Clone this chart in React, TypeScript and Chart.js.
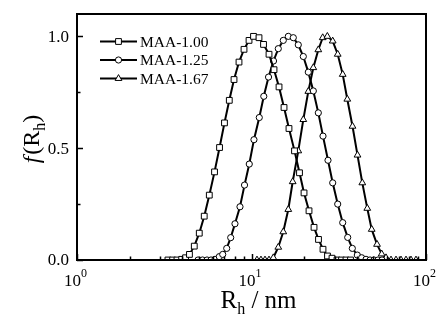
import { useEffect, useRef } from 'react';
import { Chart, registerables } from 'chart.js';

Chart.register(...registerables);

// ---- data ----
const seriesLabels = ['MAA-1.00', 'MAA-1.25', 'MAA-1.67'];

const rh100 = [3.32, 3.53, 3.74, 3.98, 4.19, 4.41, 4.70, 5.02, 5.36, 5.73,
  6.14, 6.56, 7.00, 7.46, 7.94, 8.48, 9.06, 9.68, 10.27, 11.04,
  11.72, 12.60, 13.46, 14.38, 15.36, 16.40, 17.64, 18.84, 20.00, 21.36,
  22.82, 24.21, 25.69, 27.26, 28.93, 30.90, 32.80, 34.79, 36.93];
const f100 = [0, 0, 0, 0.003, 0.01, 0.025, 0.062, 0.12, 0.196, 0.29,
  0.394, 0.503, 0.613, 0.714, 0.807, 0.885, 0.942, 0.982, 1.0, 0.994,
  0.964, 0.92, 0.851, 0.774, 0.682, 0.588, 0.488, 0.39, 0.30, 0.22,
  0.146, 0.092, 0.048, 0.018, 0.008, 0, 0, 0, 0];

const rh125 = [4.94, 5.24, 5.56, 5.86, 6.18, 6.54, 6.84, 7.21, 7.60, 8.04,
  8.59, 9.12, 9.71, 10.33, 11.08, 11.76, 12.52, 13.37, 14.24, 15.21,
  16.25, 17.36, 18.54, 19.81, 21.16, 22.61, 24.15, 25.69, 27.44, 29.20,
  31.19, 33.32, 35.59, 37.82, 40.40, 42.81, 45.32, 47.77, 50.35, 53.08, 55.96];
const f125 = [0, 0, 0, 0, 0.003, 0.015, 0.025, 0.052, 0.1, 0.162,
  0.238, 0.335, 0.429, 0.538, 0.637, 0.732, 0.818, 0.89, 0.945, 0.982,
  1.0, 0.994, 0.962, 0.91, 0.84, 0.756, 0.658, 0.554, 0.446, 0.345,
  0.25, 0.167, 0.101, 0.052, 0.022, 0.01, 0.003, 0, 0, 0, 0];

const rh167 = [10.75, 11.33, 11.95, 12.60, 13.34, 14.24, 15.21, 16.25, 17.22, 18.54,
  19.81, 21.16, 22.61, 24.15, 25.59, 27.20, 29.20, 31.19, 33.32, 35.40,
  37.92, 40.50, 43.15, 46.08, 48.85, 52.40, 55.73, 58.99, 63.02, 67.32,
  71.91, 76.82, 82.04, 87.63];
const f167 = [0, 0, 0, 0, 0.01, 0.057, 0.126, 0.226, 0.35, 0.488,
  0.628, 0.754, 0.86, 0.94, 0.994, 1.0, 0.979, 0.92, 0.83, 0.719,
  0.598, 0.469, 0.345, 0.231, 0.137, 0.07, 0.027, 0.01, 0, 0,
  0, 0, 0, 0];

const yMajorTicks = [0, 0.5, 1.0];
const yMinorTicks = [0.25, 0.75];
const xMajorTicks = [1, 10, 100];
const xMajorExponents = ['0', '1', '2'];
const xMinorTicks = [2, 3, 4, 5, 6, 7, 8, 9, 20, 30, 40, 50, 60, 70, 80, 90];

const SERIF = "'Liberation Serif', 'Times New Roman', Times, serif";
const pointStyles = ['rect', 'circle', 'triangle'];
const pointRadii = [4.1, 3.1, 3.9];

function drawMarker(ctx: CanvasRenderingContext2D, style: string, x: number, y: number, r: number) {
  ctx.beginPath();
  if (style === 'rect') {
    const s = r * Math.SQRT1_2;
    ctx.rect(x - s, y - s, 2 * s, 2 * s);
  } else if (style === 'circle') {
    ctx.arc(x, y, r, 0, Math.PI * 2);
  } else {
    let rad = 0;
    ctx.moveTo(x + Math.sin(rad) * r, y - Math.cos(rad) * r);
    rad += (2 * Math.PI) / 3;
    ctx.lineTo(x + Math.sin(rad) * r, y - Math.cos(rad) * r);
    rad += (2 * Math.PI) / 3;
    ctx.lineTo(x + Math.sin(rad) * r, y - Math.cos(rad) * r);
    ctx.closePath();
  }
  ctx.fillStyle = '#fff';
  ctx.fill();
  ctx.lineWidth = 1;
  ctx.strokeStyle = '#000';
  ctx.stroke();
}

const axesPlugin = {
  id: 'sciAxes',
  afterDraw(chart: any) {
    const ctx: CanvasRenderingContext2D = chart.ctx;
    const a = chart.chartArea;
    const xs = chart.scales.x;
    const ys = chart.scales.y;
    ctx.save();
    // frame
    ctx.strokeStyle = '#000';
    ctx.lineWidth = 2;
    ctx.strokeRect(a.left, a.top, a.right - a.left, a.bottom - a.top);

    // y ticks
    ctx.lineWidth = 1.5;
    ctx.beginPath();
    yMajorTicks.forEach((v) => {
      const py = Math.round(ys.getPixelForValue(v)) + 0.5;
      ctx.moveTo(a.left, py);
      ctx.lineTo(a.left + 6, py);
    });
    yMinorTicks.forEach((v) => {
      const py = Math.round(ys.getPixelForValue(v)) + 0.5;
      ctx.moveTo(a.left, py);
      ctx.lineTo(a.left + 3.5, py);
    });
    // x ticks
    xMajorTicks.forEach((v) => {
      const px = Math.round(xs.getPixelForValue(v)) + 0.5;
      ctx.moveTo(px, a.bottom);
      ctx.lineTo(px, a.bottom - 6);
    });
    xMinorTicks.forEach((v) => {
      const px = Math.round(xs.getPixelForValue(v)) + 0.5;
      ctx.moveTo(px, a.bottom);
      ctx.lineTo(px, a.bottom - 3.5);
    });
    ctx.stroke();

    // y tick labels
    ctx.fillStyle = '#000';
    ctx.font = `17px ${SERIF}`;
    ctx.textAlign = 'right';
    ctx.textBaseline = 'middle';
    yMajorTicks.forEach((v) => {
      ctx.fillText(v.toFixed(1), a.left - 8, ys.getPixelForValue(v) + 1);
    });

    // x tick labels 10^n
    ctx.textBaseline = 'alphabetic';
    ctx.textAlign = 'left';
    xMajorTicks.forEach((v, i) => {
      const px = xs.getPixelForValue(v);
      ctx.font = `17px ${SERIF}`;
      const wBase = ctx.measureText('10').width;
      ctx.font = `12px ${SERIF}`;
      const wSup = ctx.measureText(xMajorExponents[i]).width;
      const x0 = px - (wBase + wSup) / 2 - 1.5;
      ctx.font = `17px ${SERIF}`;
      ctx.fillText('10', x0, a.bottom + 26);
      ctx.font = `12px ${SERIF}`;
      ctx.fillText(xMajorExponents[i], x0 + wBase, a.bottom + 17);
    });

    // x title: R_h / nm
    {
      const big = `25px ${SERIF}`;
      const sub = `16px ${SERIF}`;
      ctx.font = big;
      const wR = ctx.measureText('R').width;
      const wRest = ctx.measureText(' / nm').width;
      ctx.font = sub;
      const wh = ctx.measureText('h').width;
      const total = wR + wh + wRest;
      const cx = (a.left + a.right) / 2 + 7;
      let x = cx - total / 2;
      const base = a.bottom + 48;
      ctx.font = big;
      ctx.fillText('R', x, base);
      x += wR;
      ctx.font = sub;
      ctx.fillText('h', x, base + 6);
      x += wh;
      ctx.font = big;
      ctx.fillText(' / nm', x, base);
    }

    // y title: f(R_h)
    {
      ctx.save();
      const cy = (a.top + a.bottom) / 2 + 2;
      ctx.translate(39, cy);
      ctx.rotate(-Math.PI / 2);
      const it = `italic 24px ${SERIF}`;
      const big = `24px ${SERIF}`;
      const sub = `16px ${SERIF}`;
      ctx.font = it;
      const wf = ctx.measureText('f').width;
      ctx.font = big;
      const wo = ctx.measureText('(R').width;
      const wc = ctx.measureText(')').width;
      ctx.font = sub;
      const wh = ctx.measureText('h').width;
      const total = wf + wo + wh + wc + 2;
      let x = -total / 2;
      ctx.font = it;
      ctx.fillText('f', x, 0);
      x += wf + 2;
      ctx.font = big;
      ctx.fillText('(R', x, 0);
      x += wo;
      ctx.font = sub;
      ctx.fillText('h', x, 6);
      x += wh;
      ctx.font = big;
      ctx.fillText(')', x, 0);
      ctx.restore();
    }

    // legend
    ctx.font = `15.5px ${SERIF}`;
    ctx.textBaseline = 'middle';
    ctx.textAlign = 'left';
    chart.data.datasets.forEach((ds: any, i: number) => {
      const y = a.top + 27.5 + i * 18.5;
      const x0 = a.left + 23;
      const x1 = a.left + 60;
      ctx.strokeStyle = '#000';
      ctx.lineWidth = 2;
      ctx.beginPath();
      ctx.moveTo(x0, y);
      ctx.lineTo(x1, y);
      ctx.stroke();
      drawMarker(ctx, pointStyles[i], (x0 + x1) / 2, y, pointRadii[i]);
      ctx.fillStyle = '#000';
      ctx.fillText(ds.label, x1 + 3, y + 1);
    });
    ctx.restore();
  },
};

export default function App() {
  const ref = useRef<HTMLCanvasElement | null>(null);
  useEffect(() => {
    const canvas = ref.current;
    if (!canvas) return;
    const xsets = [rh100, rh125, rh167];
    const ysets = [f100, f125, f167];
    const chart = new Chart(canvas, {
      type: 'line',
      data: {
        datasets: seriesLabels.map((label, i) => ({
          label,
          data: xsets[i].map((x, j) => ({ x, y: ysets[i][j] })),
          borderColor: '#000',
          borderWidth: 2,
          tension: 0,
          fill: false,
          pointStyle: pointStyles[i] as any,
          pointRadius: pointRadii[i],
          pointBackgroundColor: '#fff',
          pointBorderColor: '#000',
          pointBorderWidth: 1,
        })),
      },
      options: {
        responsive: false,
        animation: false,
        devicePixelRatio: 1,
        layout: { padding: { left: 77, top: 14, right: 12, bottom: 60 } },
        scales: {
          x: { type: 'logarithmic', min: 1, max: 100, display: false },
          y: { type: 'linear', min: 0, max: 1.1, display: false },
        },
        plugins: {
          legend: { display: false },
          tooltip: { enabled: false },
        },
      },
      plugins: [axesPlugin],
    });
    return () => chart.destroy();
  }, []);
  return (
    <div style={{ position: 'fixed', left: 0, top: 0, width: 438, height: 320, background: '#fff' }}>
      <canvas ref={ref} width={438} height={320} style={{ width: 438, height: 320, display: 'block' }} />
    </div>
  );
}
